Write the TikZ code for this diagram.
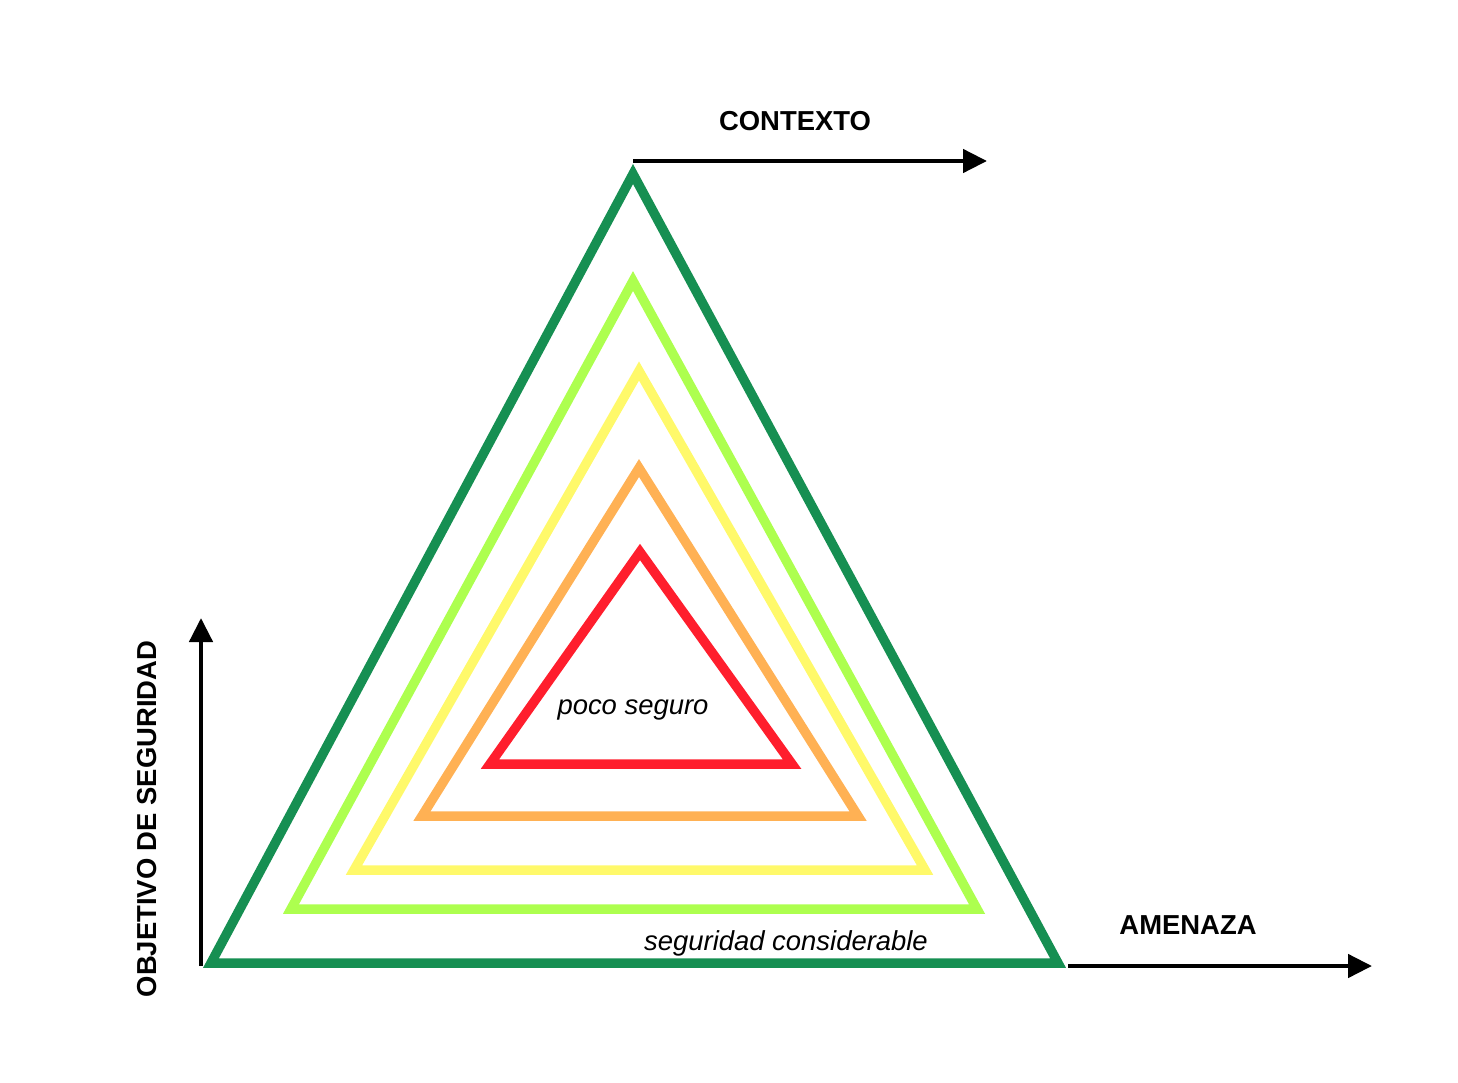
\documentclass[tikz,border=0pt]{standalone}
\usepackage{fontspec}
\setmainfont{Liberation Sans}
\usepackage{xcolor}
\usetikzlibrary{arrows.meta}
\definecolor{zonaA}{RGB}{22,143,82}
\definecolor{zonaB}{RGB}{173,255,79}
\definecolor{zonaC}{RGB}{255,249,106}
\definecolor{zonaD}{RGB}{255,177,84}
\definecolor{zonaE}{RGB}{255,30,45}

\begin{document}
\begin{tikzpicture}[x=0.01cm,y=-0.01cm,
  zona/.style={line width=2.7pt, line join=miter},
  eje/.style={line width=1.3pt, -{Triangle[length=0.24cm,width=0.23cm]}},
  etiqueta/.style={font=\fontsize{7.8}{9}\selectfont\bfseries, anchor=base, inner sep=0pt},
  nivel/.style={font=\fontsize{7.8}{9}\selectfont\itshape, anchor=base, inner sep=0pt}]
\useasboundingbox (0,0) rectangle (1458,1082);
% init-axes
\coordinate (ctxini) at (633,161);
\coordinate (ctxfin) at (987,161);
\coordinate (amzini) at (1068,966);
\coordinate (amzfin) at (1372,966);
\coordinate (objini) at (201,966);
\coordinate (objfin) at (201,618);
\draw[eje] (ctxini) -- (ctxfin);
\draw[eje] (amzini) -- (amzfin);
\draw[eje] (objini) -- (objfin);
\node[etiqueta] (contexto) at (795,131) {CONTEXTO};
\node[etiqueta] (amenaza) at (1188,934) {AMENAZA};
\node[etiqueta, rotate=90] (objetivo) at (156,819) {OBJETIVO DE SEGURIDAD};
% draw zones
\draw[zona, zonaA] (633,174) -- (1058,963) -- (211,963) -- cycle;
\draw[zona, zonaB] (633,281) -- (977,909) -- (291,909) -- cycle;
\draw[zona, zonaC] (639,371) -- (925,870) -- (354,870) -- cycle;
\draw[zona, zonaD] (639,468) -- (858,816) -- (422,816) -- cycle;
\draw[zona, zonaE] (640,552) -- (792,764) -- (490,764) -- cycle;
% levels
\node[nivel] (poco) at (633,714) {poco seguro};
\node[nivel] (considerable) at (786,950) {seguridad considerable};
\end{tikzpicture}
\end{document}
